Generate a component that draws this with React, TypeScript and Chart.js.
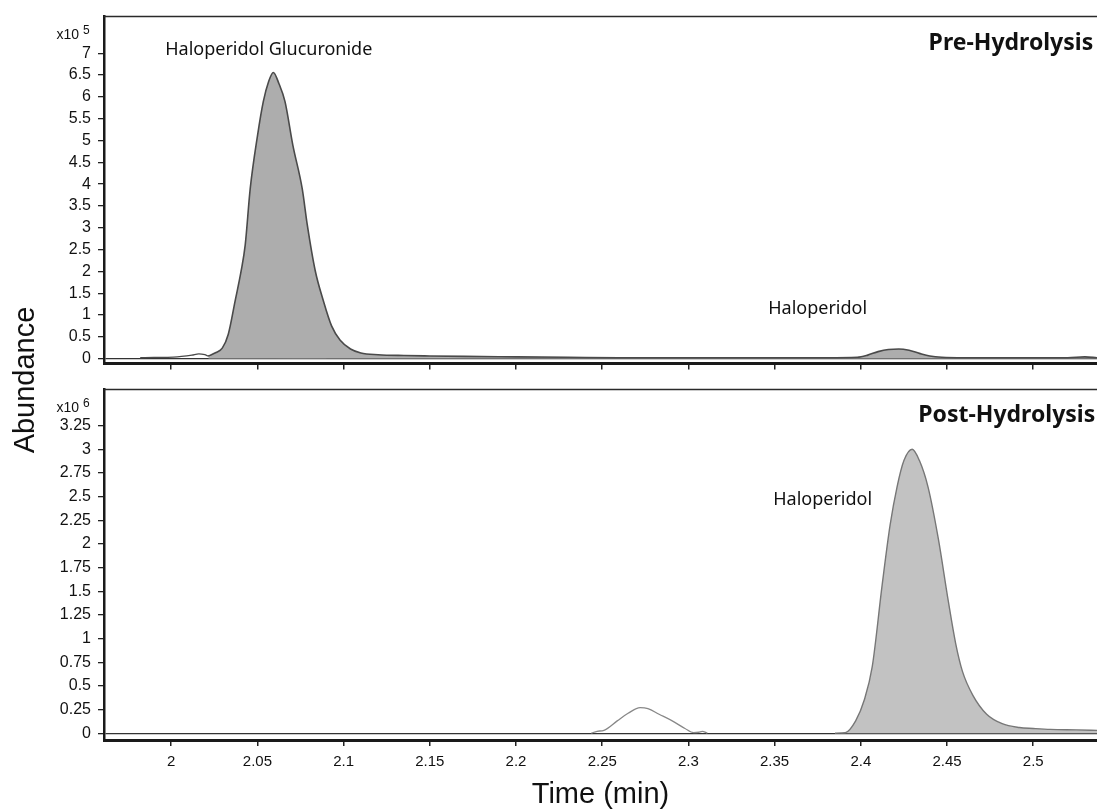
import React, { useEffect, useRef } from 'react';
import { Chart, registerables } from 'chart.js';

Chart.register(...registerables);

// ---- axis ranges / ticks ----
const timeMin = 1.961;
const timeMax = 2.537;
const timeStep = 0.05;
const preYMin = -0.11;
const preYMax = 7.84;
const preYStep = 0.5;
const preYTop = 7;
const postYMin = -0.072;
const postYMax = 3.63;
const postYStep = 0.25;
const postYTop = 3.25;
const preExponent = '5';
const postExponent = '6';

// ---- Pre-hydrolysis (x10^5) ----
const preTimes = [
  2.0215, 2.026, 2.0296, 2.0331, 2.0371, 2.0406, 2.0429, 2.0458, 2.05, 2.0534,
  2.0565, 2.0592, 2.0625, 2.066, 2.0705, 2.076, 2.0789, 2.0835, 2.0882, 2.093,
  2.098, 2.104, 2.11, 2.12, 2.135, 2.15, 2.17, 2.2, 2.23, 2.26,
  2.29, 2.32, 2.35, 2.38, 2.398, 2.404, 2.41, 2.416, 2.422, 2.428,
  2.434, 2.44, 2.447, 2.46, 2.48, 2.5, 2.52, 2.53, 2.537,
];
const preAbundance = [
  0.06, 0.14, 0.24, 0.56, 1.33, 2.02, 2.6, 3.89, 5.1, 5.89,
  6.35, 6.56, 6.3, 5.89, 4.9, 3.89, 3.07, 2.02, 1.33, 0.75,
  0.42, 0.22, 0.13, 0.09, 0.07, 0.06, 0.05, 0.04, 0.03, 0.02,
  0.02, 0.02, 0.02, 0.02, 0.03, 0.08, 0.16, 0.21, 0.22, 0.19,
  0.12, 0.06, 0.03, 0.02, 0.02, 0.02, 0.02, 0.04, 0.02,
];
const preMinorTimes = [
  1.982, 1.99, 1.998, 2.006, 2.012, 2.016, 2.0195, 2.0215, 2.03, 2.04,
  2.05, 2.056, 2.07, 2.09,
];
const preMinorAbundance = [
  0.02, 0.03, 0.03, 0.05, 0.08, 0.11, 0.09, 0.06, 0.03, 0.04,
  0.06, 0.04, 0.02, 0.02,
];

// ---- Post-hydrolysis (x10^6) ----
const postTimes = [
  2.385, 2.391, 2.397, 2.402, 2.4066, 2.4124, 2.417, 2.421, 2.425, 2.4298,
  2.434, 2.439, 2.445, 2.4507, 2.455, 2.459, 2.465, 2.473, 2.482, 2.492,
  2.5, 2.51, 2.525, 2.537,
];
const postAbundance = [
  0, 0.005, 0.13, 0.35, 0.7, 1.57, 2.2, 2.6, 2.88, 3.0,
  2.88, 2.6, 2.05, 1.4, 0.95, 0.65, 0.4, 0.2, 0.1, 0.06,
  0.05, 0.04, 0.035, 0.03,
];
const postMinorTimes = [
  2.2436, 2.247, 2.251, 2.2587, 2.265, 2.272, 2.2765, 2.283, 2.2906, 2.298,
  2.303, 2.306, 2.308, 2.311,
];
const postMinorAbundance = [
  0, 0.02, 0.03, 0.13, 0.21, 0.27, 0.26, 0.2, 0.13, 0.05,
  0.005, 0.01, 0.02, 0,
];

// ---- annotation texts (anchored in data coordinates) ----
const preNotes = [
  { text: 'Haloperidol Glucuronide', t: 1.9965, v: 7.07, align: 'left', bold: false },
  { text: 'Pre-Hydrolysis', t: 2.5348, v: 7.22, align: 'right', bold: true },
  { text: 'Haloperidol', t: 2.3463, v: 1.13, align: 'left', bold: false },
];
const postNotes = [
  { text: 'Post-Hydrolysis', t: 2.536, v: 3.354, align: 'right', bold: true },
  { text: 'Haloperidol', t: 2.3492, v: 2.47, align: 'left', bold: false },
];

const axisFont = '"Liberation Sans", Arial, sans-serif';
const noteFont = '"Noto Sans", "Open Sans", sans-serif';

const zip = (xs: number[], ys: number[]) => xs.map((x, i) => ({ x, y: ys[i] }));
const fmt = (v: number) => String(Math.round(v * 100) / 100);

function notesPlugin(id: string, notes: any[], exponent: string) {
  return {
    id,
    afterDraw(chart: any) {
      const { ctx, chartArea, scales } = chart;
      ctx.save();
      // top frame line
      ctx.strokeStyle = '#2a2a2a';
      ctx.lineWidth = 1.5;
      ctx.beginPath();
      ctx.moveTo(chartArea.left, chartArea.top);
      ctx.lineTo(chartArea.right, chartArea.top);
      ctx.stroke();
      // annotation texts
      ctx.fillStyle = '#111';
      ctx.textBaseline = 'middle';
      for (const n of notes) {
        ctx.font = n.bold ? `bold 23px ${noteFont}` : `18px ${noteFont}`;
        ctx.textAlign = n.align;
        ctx.fillText(n.text, scales.x.getPixelForValue(n.t), scales.y.getPixelForValue(n.v));
      }
      // exponent label
      ctx.font = `14px ${axisFont}`;
      ctx.textAlign = 'right';
      ctx.fillText('x10', chartArea.left - 25, chartArea.top + 19);
      ctx.font = `12px ${axisFont}`;
      ctx.textAlign = 'left';
      ctx.fillText(exponent, chartArea.left - 21, chartArea.top + 14);
      ctx.restore();
    },
  };
}

function buildConfig(opts: {
  datasets: any[];
  yMin: number;
  yMax: number;
  yStep: number;
  yTop: number;
  padTop: number;
  xHeight: number;
  showX: boolean;
  plugin: any;
}) {
  return {
    type: 'line' as const,
    data: { datasets: opts.datasets },
    options: {
      animation: false,
      responsive: false,
      devicePixelRatio: 1,
      layout: { padding: { top: opts.padTop, left: 0, right: 0, bottom: 0 } },
      plugins: { legend: { display: false }, tooltip: { enabled: false } },
      elements: { point: { radius: 0 } },
      scales: {
        x: {
          type: 'linear',
          min: timeMin,
          max: timeMax,
          afterFit: (s: any) => {
            s.height = opts.xHeight;
          },
          ticks: {
            display: opts.showX,
            stepSize: timeStep,
            includeBounds: false,
            autoSkip: false,
            maxRotation: 0,
            padding: 7,
            color: '#111',
            font: { family: axisFont, size: 15 },
            callback: (v: any) => fmt(Number(v)),
          },
          grid: {
            drawOnChartArea: false,
            drawTicks: true,
            tickLength: 6,
            color: '#222',
            lineWidth: 1.5,
          },
          border: { display: true, color: '#1a1a1a', width: 3 },
          title: {
            display: opts.showX,
            text: 'Time (min)',
            color: '#111',
            font: { family: axisFont, size: 29, lineHeight: 1.1 },
            padding: { top: 0, bottom: 0 },
          },
        },
        y: {
          type: 'linear',
          min: opts.yMin,
          max: opts.yMax,
          afterFit: (s: any) => {
            s.width = 104;
          },
          afterBuildTicks: (s: any) => {
            s.ticks = s.ticks.filter((t: any) => t.value >= -1e-9 && t.value <= opts.yTop + 1e-9);
          },
          ticks: {
            stepSize: opts.yStep,
            includeBounds: false,
            autoSkip: false,
            padding: 7,
            color: '#111',
            font: { family: axisFont, size: 16 },
            callback: (v: any) => fmt(Number(v)),
          },
          grid: {
            drawOnChartArea: true,
            drawTicks: true,
            tickLength: 6,
            color: (c: any) => (c.tick && Math.abs(c.tick.value) < 1e-9 ? '#333' : 'rgba(0,0,0,0)'),
            tickColor: '#222',
            lineWidth: 1.3,
          },
          border: { display: true, color: '#1a1a1a', width: 2.5 },
        },
      },
    },
    plugins: [opts.plugin],
  };
}

export default function App() {
  const topRef = useRef<HTMLCanvasElement>(null);
  const botRef = useRef<HTMLCanvasElement>(null);

  useEffect(() => {
    document.body.style.margin = '0';
    const top = new Chart(
      topRef.current as HTMLCanvasElement,
      buildConfig({
        datasets: [
          {
            data: zip(preTimes, preAbundance),
            borderColor: '#4a4a4a',
            borderWidth: 1.6,
            backgroundColor: '#adadad',
            fill: 'origin',
            cubicInterpolationMode: 'monotone',
          },
          {
            data: zip(preMinorTimes, preMinorAbundance),
            borderColor: '#4a4a4a',
            borderWidth: 1.3,
            fill: false,
            cubicInterpolationMode: 'monotone',
          },
        ],
        yMin: preYMin,
        yMax: preYMax,
        yStep: preYStep,
        yTop: preYTop,
        padTop: 15,
        xHeight: 7,
        showX: false,
        plugin: notesPlugin('preNotes', preNotes, preExponent),
      }) as any
    );
    const bot = new Chart(
      botRef.current as HTMLCanvasElement,
      buildConfig({
        datasets: [
          {
            data: zip(postTimes, postAbundance),
            borderColor: '#777',
            borderWidth: 1.4,
            backgroundColor: '#c2c2c2',
            fill: 'origin',
            cubicInterpolationMode: 'monotone',
          },
          {
            data: zip(postMinorTimes, postMinorAbundance),
            borderColor: '#888',
            borderWidth: 1.3,
            fill: false,
            cubicInterpolationMode: 'monotone',
          },
        ],
        yMin: postYMin,
        yMax: postYMax,
        yStep: postYStep,
        yTop: postYTop,
        padTop: 7,
        xHeight: 71,
        showX: true,
        plugin: notesPlugin('postNotes', postNotes, postExponent),
      }) as any
    );
    return () => {
      top.destroy();
      bot.destroy();
    };
  }, []);

  return (
    <div style={{ position: 'relative', width: 1097, height: 811, background: '#fff', overflow: 'hidden' }}>
      <canvas ref={topRef} width={1097} height={380} style={{ position: 'absolute', left: 0, top: 0 }} />
      <canvas ref={botRef} width={1097} height={438} style={{ position: 'absolute', left: 0, top: 373 }} />
      <div
        style={{
          position: 'absolute',
          left: 24 - 150,
          top: 380 - 17,
          width: 300,
          height: 34,
          lineHeight: '34px',
          textAlign: 'center',
          transform: 'rotate(-90deg)',
          fontFamily: axisFont,
          fontSize: 29,
          color: '#111',
        }}
      >
        Abundance
      </div>
    </div>
  );
}
